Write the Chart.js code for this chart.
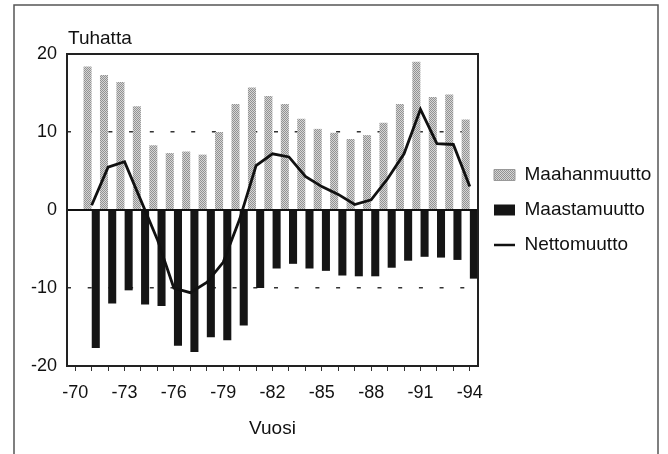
<!DOCTYPE html>
<html>
<head>
<meta charset="utf-8">
<script src="https://cdn.jsdelivr.net/npm/chart.js@4.4.1/dist/chart.umd.min.js"></script>
<style>
  html, body { margin: 0; padding: 0; background: #fff; }
  #wrap { width: 668px; height: 454px; }
</style>
</head>
<body>
<div id="wrap"><canvas id="c" width="668" height="454"></canvas></div>
<script>
// ---- data (thousands) ----
const years = [1970,1971,1972,1973,1974,1975,1976,1977,1978,1979,1980,1981,1982,1983,1984,1985,1986,1987,1988,1989,1990,1991,1992,1993,1994];
const maahanmuutto = [null,18.4,17.3,16.4,13.3,8.3,7.3,7.5,7.1,10.0,13.6,15.7,14.6,13.6,11.7,10.4,9.9,9.1,9.6,11.2,13.6,19.0,14.5,14.8,11.6];
const maastamuutto = [null,-17.7,-12.0,-10.3,-12.1,-12.3,-17.4,-18.2,-16.3,-16.7,-14.8,-10.0,-7.5,-6.9,-7.5,-7.8,-8.4,-8.5,-8.5,-7.4,-6.5,-6.0,-6.1,-6.4,-8.8];
const nettomuutto = [null,0.6,5.5,6.2,1.2,-3.8,-10.0,-10.6,-9.3,-6.7,-1.2,5.7,7.2,6.8,4.3,3.0,2.0,0.7,1.3,4.0,7.2,12.9,8.5,8.4,3.0];
const xTickYears = [1970,1973,1976,1979,1982,1985,1988,1991,1994];
const xTickLabels = ['-70','-73','-76','-79','-82','-85','-88','-91','-94'];
const yTicks = [-20,-10,0,10,20];
const seriesNames = ['Maahanmuutto','Maastamuutto','Nettomuutto'];
const yUnit = 'Tuhatta';
const xTitle = 'Vuosi';

// stipple pattern for the grey bars
function makePattern() {
  const p = document.createElement('canvas');
  p.width = 2; p.height = 2;
  const g = p.getContext('2d');
  g.fillStyle = '#d6d6d6'; g.fillRect(0,0,2,2);
  g.fillStyle = '#929292';
  g.fillRect(0,0,1,1); g.fillRect(1,1,1,1);
  return g.createPattern(p, 'repeat');
}
const greyFill = makePattern();

const TICKFONT = "'Liberation Sans', Arial, sans-serif";
const SANS = "'Liberation Sans', Arial, sans-serif";
const LEGEND_WIDTH = 180;

const framePlugin = {
  id: 'frame',
  beforeLayout(chart) {
    const l = chart.legend;
    if (l && !l._fixedWidth) {
      const orig = l.fit.bind(l);
      l.fit = function () { orig(); this.width = LEGEND_WIDTH; };
      l._fixedWidth = true;
    }
  },
  beforeDraw(chart) {
    const ctx = chart.ctx;
    ctx.save();
    ctx.strokeStyle = '#555';
    ctx.lineWidth = 1.5;
    ctx.beginPath();
    ctx.moveTo(14, 454); ctx.lineTo(14, 5); ctx.lineTo(658, 5); ctx.lineTo(658, 454);
    ctx.stroke();
    ctx.restore();
  },
  afterDatasetsDraw(chart) {
    const ctx = chart.ctx;
    const a = chart.chartArea;
    const y = chart.scales.y;
    ctx.save();
    // zero line
    ctx.strokeStyle = '#111';
    ctx.lineWidth = 2;
    const y0 = Math.round(y.getPixelForValue(0));
    ctx.beginPath(); ctx.moveTo(a.left, y0); ctx.lineTo(a.right, y0); ctx.stroke();
    // plot frame
    ctx.strokeStyle = '#222';
    ctx.lineWidth = 2;
    ctx.strokeRect(a.left, a.top, a.right - a.left, a.bottom - a.top);
    // unit label
    ctx.fillStyle = '#111';
    ctx.font = "19px " + SANS;
    ctx.textAlign = 'left';
    ctx.textBaseline = 'alphabetic';
    ctx.fillText(yUnit, a.left + 1, a.top - 10);
    ctx.restore();
  }
};

new Chart(document.getElementById('c'), {
  type: 'bar',
  data: {
    labels: years,
    datasets: [
      { label: seriesNames[0], data: maahanmuutto, backgroundColor: greyFill, borderWidth: 0, order: 2,
        categoryPercentage: 1.0, barPercentage: 0.98 },
      { label: seriesNames[1], data: maastamuutto, backgroundColor: '#151515', borderWidth: 0, order: 2,
        categoryPercentage: 1.0, barPercentage: 0.98 },
      { label: seriesNames[2], data: nettomuutto, type: 'line', borderColor: '#111', backgroundColor: '#111',
        borderWidth: 2.8, pointRadius: 0, tension: 0, order: 0, spanGaps: false }
    ]
  },
  options: {
    responsive: false,
    animation: false,
    devicePixelRatio: 1,
    layout: { padding: { left: 14, top: 54, right: 10, bottom: 10 } },
    plugins: {
      tooltip: { enabled: false },
      legend: {
        position: 'right',
        align: 'center',
        fullSize: false,
        labels: {
          color: '#111',
          font: { family: SANS, size: 19 },
          usePointStyle: true,
          pointStyleWidth: 21,
          boxHeight: 11,
          padding: 16,
          sort: (a, b) => a.datasetIndex - b.datasetIndex,
          generateLabels(chart) {
            const items = Chart.defaults.plugins.legend.labels.generateLabels(chart);
            items.forEach(it => {
              if (it.datasetIndex === 2) {
                it.pointStyle = 'line'; it.strokeStyle = '#111'; it.lineWidth = 2.5;
              } else if (it.datasetIndex === 0) {
                it.pointStyle = 'rect'; it.fillStyle = greyFill; it.strokeStyle = '#999'; it.lineWidth = 1;
              } else {
                it.pointStyle = 'rect'; it.fillStyle = '#151515'; it.strokeStyle = '#151515'; it.lineWidth = 0;
              }
            });
            return items;
          }
        }
      }
    },
    scales: {
      x: {
        offset: true,
        grid: { display: true, drawOnChartArea: false, offset: false, tickLength: 5, color: '#333', lineWidth: 1 },
        border: { display: false },
        ticks: {
          autoSkip: false, maxRotation: 0, minRotation: 0, padding: 11,
          color: '#111', font: { family: TICKFONT, size: 18 },
          callback(value, index) {
            const yr = years[index];
            const k = xTickYears.indexOf(yr);
            return k >= 0 ? xTickLabels[k] : '';
          }
        },
        title: { display: true, text: xTitle, color: '#111', font: { family: SANS, size: 19 }, padding: { top: 0, bottom: 4 } },
        afterFit(scale) { scale.height = 78; }
      },
      y: {
        min: -20, max: 20,
        afterBuildTicks(scale) { scale.ticks = yTicks.map(v => ({ value: v })); },
        grid: {
          drawTicks: false,
          color: ctx => (ctx.tick && Math.abs(ctx.tick.value) === 10) ? '#333' : 'rgba(0,0,0,0)',
          lineWidth: 1.5
        },
        border: { display: false, dash: [4, 16.7] },
        ticks: { padding: 10, color: '#111', font: { family: TICKFONT, size: 18 } },
        afterFit(scale) { scale.width = 53; }
      }
    }
  },
  plugins: [framePlugin]
});
</script>
</body>
</html>
